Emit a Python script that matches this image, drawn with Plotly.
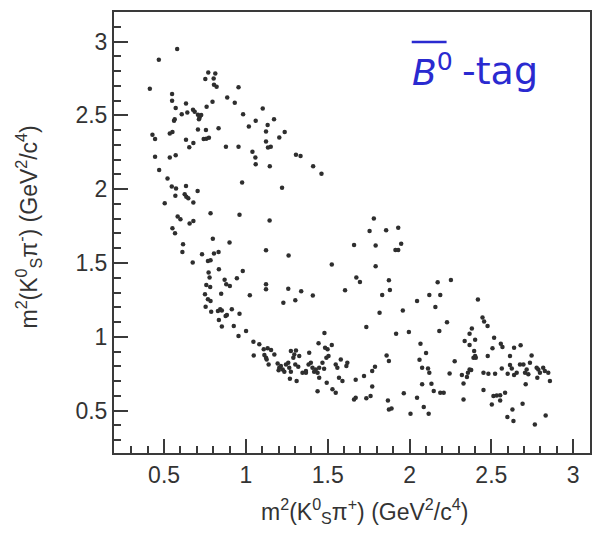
import plotly.graph_objects as go

# Region A: upper-left band (K* resonance region, high m2(KSpi-))
xa = [0.58,0.468,0.413,0.549,0.549,0.634,0.770,0.813,0.752,0.803,0.805,0.821,0.955,0.886,0.932,0.796,
      0.760,0.571,0.608,0.642,0.677,0.687,0.707,0.717,0.727,0.713,0.565,0.561,0.983,1.103,1.060,1.172,
      1.133,1.018,1.123,1.237,1.204,0.429,0.445,0.535,0.551,0.707,0.756,0.833,0.634,0.742,0.758,0.774,
      0.679,0.654,0.878,0.955,1.123,1.135,1.152,1.040,1.058,1.060,1.146,0.445,0.535,0.571,0.470,0.521,
      0.547,0.573,0.634,0.705,0.569,0.626,0.636,0.648,0.504,0.679,0.977,1.221,1.306,1.334,1.411,1.462]
ya = [2.95,2.877,2.68,2.644,2.599,2.581,2.791,2.784,2.746,2.750,2.707,2.694,2.691,2.621,2.585,2.592,
      2.558,2.549,2.508,2.520,2.538,2.524,2.504,2.486,2.502,2.474,2.474,2.463,2.508,2.547,2.463,2.474,
      2.434,2.425,2.391,2.388,2.350,2.368,2.339,2.377,2.388,2.404,2.400,2.413,2.334,2.339,2.341,2.348,
      2.312,2.284,2.287,2.287,2.323,2.282,2.287,2.253,2.214,2.169,2.156,2.219,2.214,2.230,2.129,2.072,
      2.018,2.004,2.022,1.988,1.955,1.966,1.948,1.939,1.905,1.909,2.045,2.009,2.233,2.224,2.156,2.104]

# Region B: lower-left band
xb = [0.583,0.600,0.784,0.961,1.145,0.656,0.679,0.551,0.567,0.616,0.612,0.798,0.900,1.123,1.261,1.661,
      1.525,1.675,0.732,0.768,0.784,0.805,0.833,0.675,0.835,0.981,0.772,0.778,0.870,0.880,0.902,0.945,
      1.123,1.123,0.758,0.782,0.849,0.750,0.768,0.784,1.024,1.259,1.338,1.409,1.606,1.229,1.302,0.754,
      0.788,0.829,0.843,0.853,0.914,0.961,0.876,0.884,0.835,0.853,0.926,1.001,0.955,1.046,1.082,1.048,
      1.109,1.133,1.154,1.174,1.113,1.123,1.139,1.127,1.194,1.204,1.214,1.225,1.245,1.235,1.200,1.265,
      1.275,1.259,1.275,1.296,1.306,1.326,1.290,1.269,1.310,1.302,1.320,1.346,1.367,1.383,1.387,1.397,
      1.407,1.417,1.367,1.427,1.448,1.438,1.444,1.480,1.525,1.499,1.484,1.505,1.492,1.468,1.478,1.448,
      1.494,1.438,1.529,1.549,1.549,1.559,1.580,1.620,1.614,1.569,1.590,1.671,1.671,1.661]
yb = [1.815,1.796,1.837,1.826,1.787,1.767,1.785,1.735,1.701,1.627,1.575,1.665,1.638,1.586,1.550,1.622,
      1.489,1.401,1.559,1.514,1.518,1.564,1.575,1.503,1.457,1.446,1.435,1.401,1.387,1.356,1.344,1.396,
      1.356,1.322,1.351,1.338,1.292,1.288,1.254,1.243,1.281,1.326,1.308,1.279,1.315,1.231,1.247,1.204,
      1.170,1.175,1.186,1.179,1.186,1.157,1.141,1.148,1.114,1.069,1.073,1.039,1.005,0.967,0.949,0.874,
      0.915,0.922,0.911,0.881,0.876,0.858,0.813,0.847,0.820,0.791,0.802,0.779,0.813,0.764,0.773,0.791,
      0.764,0.824,0.904,0.881,0.908,0.870,0.858,0.716,0.700,0.813,0.797,0.757,0.768,0.813,0.892,0.824,
      0.791,0.764,0.757,0.779,0.791,0.757,0.956,1.026,0.944,0.915,0.926,0.870,0.858,0.824,0.784,0.723,
      0.689,0.632,0.644,0.621,0.813,0.791,0.847,0.824,0.802,0.723,0.700,0.709,0.587,0.576]

# Region C: right part
xc = [1.782,1.756,1.857,1.931,1.793,1.914,1.931,1.949,1.793,1.697,1.874,1.880,1.833,1.817,1.736,1.918,
      1.996,1.959,2.046,2.121,2.188,2.172,2.253,2.158,2.229,2.182,2.418,2.446,2.456,2.477,2.381,2.367,
      2.337,2.367,2.401,2.067,2.101,2.061,2.077,2.113,2.121,1.860,1.874,1.789,1.772,1.722,1.772,1.736,
      1.762,1.868,1.874,1.890,1.965,2.046,2.006,2.087,2.117,2.077,2.134,2.148,2.188,2.209,2.245,2.276,
      2.320,2.357,2.367,2.377,2.351,2.330,2.330,2.395,2.401,2.391,2.405,2.478,2.507,2.517,2.558,2.568,
      2.639,2.679,2.614,2.746,2.736,2.452,2.482,2.523,2.564,2.600,2.614,2.625,2.639,2.655,2.675,2.696,
      2.706,2.716,2.726,2.710,2.777,2.787,2.797,2.817,2.827,2.848,2.858,2.781,2.452,2.513,2.533,2.554,
      2.584,2.503,2.554,2.629,2.598,2.635,2.691,2.766,2.832]
yc = [1.801,1.717,1.722,1.738,1.618,1.588,1.588,1.631,1.478,1.372,1.383,1.317,1.283,1.163,1.066,1.021,
      1.032,1.179,1.243,1.283,1.283,1.369,1.385,1.202,1.098,1.039,1.252,1.130,1.103,1.073,1.057,1.021,
      0.971,0.944,0.980,0.953,0.890,0.845,0.791,0.786,0.757,0.874,0.836,0.797,0.768,0.734,0.664,0.583,
      0.599,0.569,0.508,0.515,0.617,0.587,0.479,0.524,0.479,0.678,0.682,0.633,0.621,0.621,0.752,0.834,
      0.741,0.757,0.779,0.775,0.727,0.684,0.576,0.904,0.870,0.858,0.858,0.870,0.922,0.994,0.953,0.931,
      0.926,0.942,0.870,0.874,0.825,0.757,0.750,0.750,0.786,0.750,0.809,0.786,0.741,0.757,0.813,0.813,
      0.757,0.779,0.746,0.678,0.791,0.779,0.757,0.791,0.768,0.757,0.700,0.723,0.639,0.599,0.603,0.605,
      0.621,0.542,0.569,0.508,0.456,0.429,0.547,0.406,0.467]

x_vals = xa + xb + xc
y_vals = ya + yb + yc

x_ticks = [0.5, 1, 1.5, 2, 2.5, 3]
y_ticks = [0.5, 1, 1.5, 2, 2.5, 3]

fig = go.Figure()
fig.add_trace(go.Scatter(
    x=x_vals, y=y_vals, mode="markers",
    marker=dict(symbol="circle", size=4.5, color="#2e2e2e",
                line=dict(width=0)),
    showlegend=False, hoverinfo="skip"))

axis_common = dict(
    showgrid=False, zeroline=False,
    showline=True, mirror=True, linecolor="#3a3a3a", linewidth=2,
    ticks="inside", ticklen=14, tickwidth=1.5, tickcolor="#3a3a3a",
    tickfont=dict(family="Liberation Sans, Arial, sans-serif", size=23, color="#333333"),
    minor=dict(ticks="inside", ticklen=7, tickwidth=1.5, tickcolor="#3a3a3a", dtick=0.1),
)

fig.update_xaxes(range=[0.194, 3.103], tickvals=x_ticks,
                 ticktext=[str(v) for v in x_ticks], **axis_common)
fig.update_yaxes(range=[0.213, 3.20], tickvals=y_ticks,
                 ticktext=[str(v) for v in y_ticks], **axis_common)

title_font = dict(family="Liberation Sans, Arial, sans-serif", size=23, color="#333333")
fig.add_annotation(
    text="m<sup>2</sup>(K<sup>0</sup><sub>S</sub>π<sup>+</sup>) (GeV<sup>2</sup>/c<sup>4</sup>)",
    xref="paper", yref="paper", x=0.527, y=-0.132, xanchor="center", yanchor="middle",
    showarrow=False, font=title_font)
fig.add_annotation(
    text="m<sup>2</sup>(K<sup>0</sup><sub>S</sub>π<sup>-</sup>) (GeV<sup>2</sup>/c<sup>4</sup>)",
    xref="paper", yref="paper", x=-0.18, y=0.512, xanchor="center", yanchor="middle",
    textangle=-90, showarrow=False, font=title_font)

# B-bar^0 tag label
tag_font = dict(family="DejaVu Sans, sans-serif", size=36, color="#2a2ad0")
fig.add_annotation(
    text="<i>B</i><sup>0</sup>",
    xref="paper", yref="paper", x=0.622, y=0.812, xanchor="left", yanchor="bottom",
    showarrow=False, font=tag_font)
fig.add_annotation(
    text="-tag",
    xref="paper", yref="paper", x=0.726, y=0.812, xanchor="left", yanchor="bottom",
    showarrow=False, font=dict(family="DejaVu Sans, sans-serif", size=38, color="#2a2ad0"))
fig.add_shape(type="line", xref="paper", yref="paper",
              x0=0.6255, x1=0.6987, y0=0.932, y1=0.932,
              line=dict(color="#2a2ad0", width=2.5))

fig.update_layout(
    width=596, height=534,
    margin=dict(l=114, r=4, t=12, b=81),
    paper_bgcolor="white", plot_bgcolor="white",
)

fig.write_html("out.html")
